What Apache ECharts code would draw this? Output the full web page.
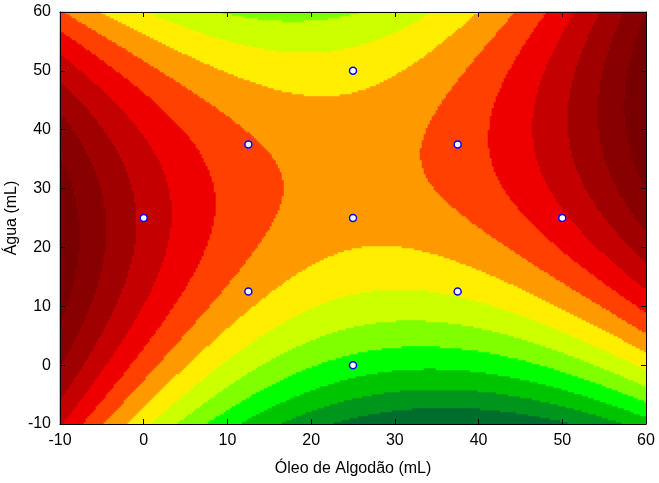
<!DOCTYPE html>
<html><head><meta charset="utf-8">
<script src="https://cdn.jsdelivr.net/npm/echarts@6/dist/echarts.min.js"></script>
<style>html,body{margin:0;padding:0;background:#fff}#c{width:659px;height:483px}</style>
</head><body><div id="c"></div>
<script>
// Axis ranges and ticks
const xRange = [-10, 60];
const yRange = [-10, 60];
const xTicks = [-10, 0, 10, 20, 30, 40, 50, 60];
const yTicks = [-10, 0, 10, 20, 30, 40, 50, 60];
const xName = 'Óleo de Algodão (mL)';
const yName = 'Água (mL)';
// Design (experimental) points
const designX = [0, 12.5, 12.5, 25, 25, 25, 37.5, 37.5, 50];
const designY = [25, 37.5, 12.5, 50, 25, 0, 37.5, 12.5, 25];
// Fitted response surface:
// z = b0 + bx*x + by*y + bxx*x^2 + byy*y^2 + bxy*x*y
const surfaceCoef = [8.50775, -0.313177, 0.18517, 0.0046, -0.00376705, 0.0025484];
// Contour level boundaries and fill colours (low -> high)
const levelBounds = [1, 2, 3, 4, 5, 6, 7, 8, 9, 10, 11, 12, 13];
const levelColors = ['#006e2e', '#00961e', '#00c400', '#00ff00', '#80ff00', '#ccff00', '#ffee00',
  '#ff9900', '#ff4000', '#ee0000', '#c40000', '#a00000', '#880000', '#7a0000'];

// Evaluation mesh (cells of the surface)
const nx = 293, ny = 206;
const dx = (xRange[1] - xRange[0]) / nx, dy = (yRange[1] - yRange[0]) / ny;
const xCells = [], yCells = [];
for (let i = 0; i < nx; i++) xCells.push(xRange[0] + (i + 0.5) * dx);
for (let j = 0; j < ny; j++) yCells.push(yRange[0] + (j + 0.5) * dy);
const [b0, bx, by, bxx, byy, bxy] = surfaceCoef;
const cells = [];
for (let i = 0; i < nx; i++) {
  const x = xCells[i];
  for (let j = 0; j < ny; j++) {
    const y = yCells[j];
    cells.push([i, j, b0 + bx * x + by * y + bxx * x * x + byy * y * y + bxy * x * y]);
  }
}
const pieces = [];
for (let k = 0; k <= levelBounds.length; k++) {
  const p = { color: levelColors[k] };
  if (k > 0) p.gte = levelBounds[k - 1];
  if (k < levelBounds.length) p.lt = levelBounds[k];
  pieces.push(p);
}

const rect = { left: 60, top: 12, width: 586, height: 412, containLabel: false, outerBoundsMode: 'none' };
const font = 'Liberation Sans, Arial, sans-serif';
const valAxis = (extra) => Object.assign({
  type: 'value', gridIndex: 1, min: xRange[0], max: xRange[1], interval: 10, z: 10,
  nameMoveOverlap: false,
  axisLine: { show: true, onZero: false, lineStyle: { color: '#000', width: 1 } },
  axisTick: { show: true, inside: true, length: 5, lineStyle: { color: '#000' } },
  axisLabel: { show: true, color: '#000', fontSize: 16, fontFamily: font, margin: 9 },
  splitLine: { show: false }
}, extra);

const chart = echarts.init(document.getElementById('c'), null, { renderer: 'canvas' });
chart.setOption({
  animation: false,
  backgroundColor: '#fff',
  grid: [Object.assign({}, rect), Object.assign({}, rect)],
  visualMap: { type: 'piecewise', show: false, dimension: 2, seriesIndex: 0, pieces: pieces },
  xAxis: [
    { type: 'category', gridIndex: 0, data: xCells, show: false },
    valAxis({ position: 'bottom', name: xName, nameLocation: 'middle', nameGap: 37,
      nameTextStyle: { color: '#000', fontSize: 16, fontFamily: font } }),
    valAxis({ position: 'top', axisLabel: { show: false } })
  ],
  yAxis: [
    { type: 'category', gridIndex: 0, data: yCells, show: false },
    valAxis({ position: 'left', min: yRange[0], max: yRange[1], name: yName, nameLocation: 'middle', nameGap: 40,
      nameTextStyle: { color: '#000', fontSize: 16, fontFamily: font } }),
    valAxis({ position: 'right', min: yRange[0], max: yRange[1], axisLabel: { show: false } })
  ],
  series: [
    { type: 'heatmap', xAxisIndex: 0, yAxisIndex: 0, data: cells, progressive: 0, z: 1,
      itemStyle: { borderWidth: 0 }, emphasis: { disabled: true }, silent: true },
    { type: 'scatter', xAxisIndex: 1, yAxisIndex: 1, z: 5, symbol: 'circle', symbolSize: 7,
      data: designX.map((x, k) => [x, designY[k]]),
      itemStyle: { color: '#ffffff', borderColor: '#0000ff', borderWidth: 1.5, opacity: 1 } }
  ]
});
</script></body></html>
